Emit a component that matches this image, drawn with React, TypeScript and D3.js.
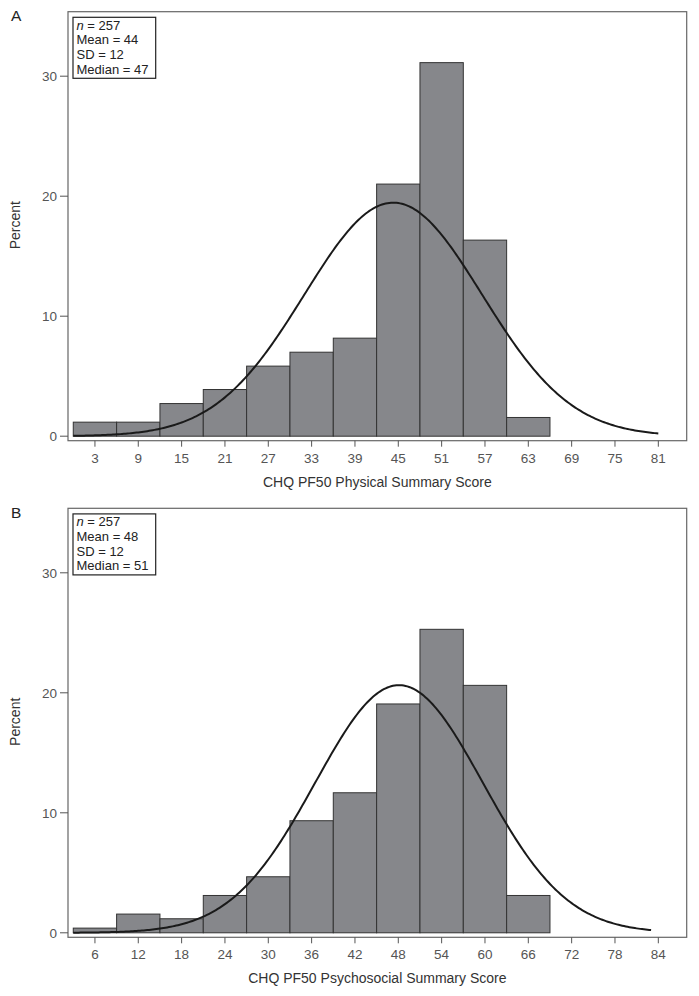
import React from "react";
import * as d3 from "d3";

// ---- Data ----
const binsA = [0, 6, 12, 18, 24, 30, 36, 42, 48, 54, 60]; // bin left edges, width 6
const pctA = [1.17, 1.17, 2.72, 3.89, 5.84, 7.0, 8.17, 21.01, 31.13, 16.34, 1.56];
const ticksA = [3, 9, 15, 21, 27, 33, 39, 45, 51, 57, 63, 69, 75, 81];
const statsA = { n: 257, mean: 44, sd: 12, median: 47 };
const curveA = { mu: 44.3, sigma: 12.3, from: 0, to: 81 };

const binsB = [3, 9, 15, 21, 27, 33, 39, 45, 51, 57, 63];
const pctB = [0.39, 1.56, 1.17, 3.11, 4.67, 9.34, 11.67, 19.07, 25.29, 20.62, 3.11];
const ticksB = [6, 12, 18, 24, 30, 36, 42, 48, 54, 60, 66, 72, 78, 84];
const statsB = { n: 257, mean: 48, sd: 12, median: 51 };
const curveB = { mu: 48.1, sigma: 11.6, from: 3, to: 83 };

const yTicks = [0, 10, 20, 30];
const binWidth = 6;

const FONT = "'Liberation Sans', Arial, Helvetica, sans-serif";

type PanelProps = {
  top: number;
  letter: string;
  bins: number[];
  pct: number[];
  ticks: number[];
  stats: { n: number; mean: number; sd: number; median: number };
  curve: { mu: number; sigma: number; from: number; to: number };
  xDomain: [number, number];
  title: string;
};

const frameL = 68;
const frameR = 686.7;

function Panel({ top, letter, bins, pct, ticks, stats, curve, xDomain, title }: PanelProps) {
  const T = top;
  const axisY = T + 429;
  const x = d3.scaleLinear().domain(xDomain).range([frameL, frameR]);
  const y = d3.scaleLinear().domain([0, 35.375]).range([T + 424.5, T]);

  const pts = d3.range(curve.from, curve.to + 0.001, 0.25).map((v) => {
    const z = (v - curve.mu) / curve.sigma;
    const dens = (100 * binWidth * Math.exp(-0.5 * z * z)) / (curve.sigma * Math.sqrt(2 * Math.PI));
    return [v, dens] as [number, number];
  });
  const line = d3
    .line<[number, number]>()
    .x((d) => x(d[0]))
    .y((d) => y(d[1]))
    .curve(d3.curveLinear);

  return (
    <g>
      <text x={11} y={T + 9.5} fontSize={15.5} fill="#222" fontFamily={FONT}>
        {letter}
      </text>
      {/* frame */}
      <rect x={frameL} y={T} width={frameR - frameL} height={axisY - T} fill="none" stroke="#666" strokeWidth={1.2} />
      {/* bars */}
      {bins.map((b, i) => (
        <rect
          key={i}
          x={x(b)}
          y={y(pct[i])}
          width={x(b + binWidth) - x(b)}
          height={y(0) - y(pct[i])}
          fill="#86878b"
          stroke="#333"
          strokeWidth={1}
        />
      ))}
      {/* curve */}
      <path d={line(pts) || ""} fill="none" stroke="#1a1a1a" strokeWidth={2} />
      {/* y ticks */}
      {yTicks.map((t) => (
        <g key={t}>
          <line x1={frameL - 8} x2={frameL} y1={y(t)} y2={y(t)} stroke="#555" strokeWidth={1} />
          <text x={frameL - 11} y={y(t) + 4.7} textAnchor="end" fontSize={13.5} fill="#555" fontFamily={FONT}>
            {t}
          </text>
        </g>
      ))}
      {/* x ticks */}
      {ticks.map((t) => (
        <g key={t}>
          <line x1={x(t)} x2={x(t)} y1={axisY} y2={axisY + 6} stroke="#555" strokeWidth={1} />
          <text x={x(t)} y={axisY + 22} textAnchor="middle" fontSize={13.5} fill="#555" fontFamily={FONT}>
            {t}
          </text>
        </g>
      ))}
      {/* axis titles */}
      <text
        x={(frameL + frameR) / 2}
        y={axisY + 46}
        textAnchor="middle"
        fontSize={14}
        fill="#333"
        fontFamily={FONT}
      >
        {title}
      </text>
      <text
        transform={`translate(20, ${T + 213.5}) rotate(-90)`}
        textAnchor="middle"
        fontSize={14}
        fill="#333"
        fontFamily={FONT}
      >
        Percent
      </text>
      {/* stats box */}
      <rect x={73} y={T + 5.6} width={82.7} height={61} fill="#fff" stroke="#222" strokeWidth={1.2} />
      <g fontSize={13} fill="#222" fontFamily={FONT}>
        <text x={76.5} y={T + 17.8}>
          <tspan fontStyle="italic">n</tspan> = {stats.n}
        </text>
        <text x={76.5} y={T + 32.5}>Mean = {stats.mean}</text>
        <text x={76.5} y={T + 47.2}>SD = {stats.sd}</text>
        <text x={76.5} y={T + 61.9}>Median = {stats.median}</text>
      </g>
    </g>
  );
}

export default function App() {
  return (
    <svg
      width={699}
      height={996}
      style={{ position: "absolute", left: 0, top: 0, background: "#fff" }}
    >
      <rect width={699} height={996} fill="#fff" />
      <Panel
        top={11.7}
        letter="A"
        bins={binsA}
        pct={pctA}
        ticks={ticksA}
        stats={statsA}
        curve={curveA}
        xDomain={[-0.73, 84.93]}
        title="CHQ PF50 Physical Summary Score"
      />
      <Panel
        top={508.3}
        letter="B"
        bins={binsB}
        pct={pctB}
        ticks={ticksB}
        stats={statsB}
        curve={curveB}
        xDomain={[2.27, 87.93]}
        title="CHQ PF50 Psychosocial Summary Score"
      />
    </svg>
  );
}
